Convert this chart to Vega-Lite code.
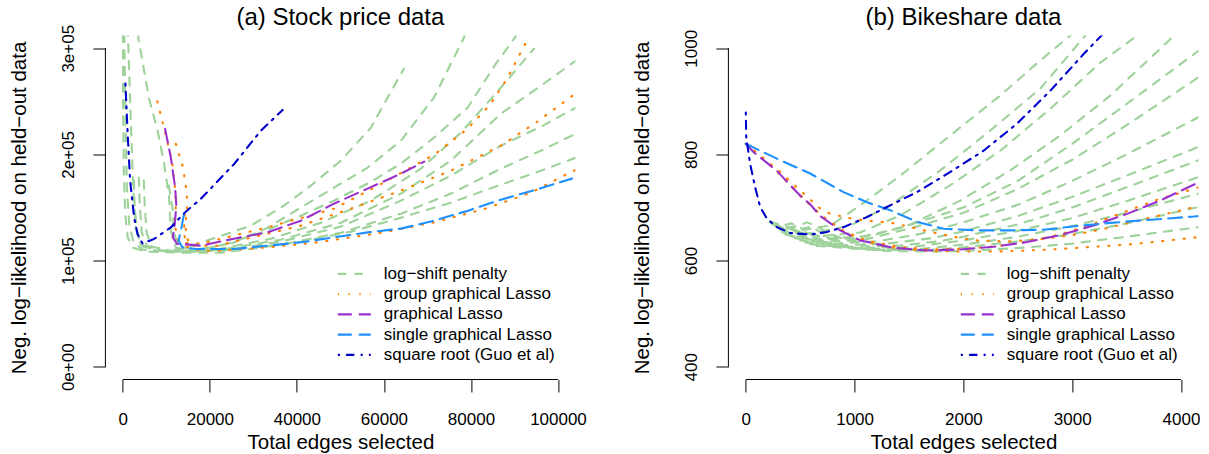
{
  "$schema": "https://vega.github.io/schema/vega-lite/v6.json",
  "padding": {"left": 8.4, "top": 5.5, "right": 0, "bottom": 0},
  "background": "white",
  "spacing": 45,
  "config": {
    "font": "Liberation Sans",
    "view": {"stroke": null},
    "axis": {"grid": false, "domain": false, "tickColor": "black", "tickSize": 12.5, "tickWidth": 1, "labelFont": "Liberation Sans", "labelFontSize": 17, "labelColor": "black", "titleFont": "Liberation Sans", "titleFontSize": 20.5, "titleFontWeight": "normal", "titleColor": "black"},
    "legend": {"orient": "none", "legendX": 239.4, "legendY": 228.9, "title": null, "symbolType": "M-2,0H2", "symbolSize": 272.25, "symbolStrokeWidth": 2.1, "labelFont": "Liberation Sans", "labelFontSize": 17, "labelColor": "black", "labelOffset": 20, "rowPadding": 2.25, "padding": 0, "labelLimit": 500},
    "title": {"font": "Liberation Sans", "fontSize": 24, "fontWeight": "normal", "color": "black", "frame": "group", "anchor": "middle", "baseline": "alphabetic"}
  },
  "resolve": {"scale": {"color": "independent", "strokeDash": "independent"}},
  "datasets": {
    "a": [
      {"s":"g1","m":"g","x":0,"y":345000},{"s":"g1","m":"g","x":70,"y":250700},{"s":"g1","m":"g","x":230,"y":184700},{"s":"g1","m":"g","x":575,"y":142300},{"s":"g1","m":"g","x":1150,"y":121600},{"s":"g1","m":"g","x":2300,"y":112200},{"s":"g1","m":"g","x":5290,"y":108400},{"s":"g1","m":"g","x":13330,"y":107400},{"s":"g1","m":"g","x":22530,"y":107400},{"s":"g1","m":"g","x":31730,"y":112200},{"s":"g1","m":"g","x":40920,"y":117800},{"s":"g1","m":"g","x":52420,"y":127200},{"s":"g1","m":"g","x":63910,"y":140400},{"s":"g1","m":"g","x":75410,"y":154600},{"s":"g1","m":"g","x":86900,"y":171500},{"s":"g1","m":"g","x":96100,"y":184700},{"s":"g1","m":"g","x":104150,"y":197000},{"s":"g1","m":"g","x":106000,"y":200000},
      {"s":"g2","m":"g","x":230,"y":345000},{"s":"g2","m":"g","x":575,"y":241300},{"s":"g2","m":"g","x":920,"y":170600},{"s":"g2","m":"g","x":1490,"y":132900},{"s":"g2","m":"g","x":2530,"y":116900},{"s":"g2","m":"g","x":4600,"y":110300},{"s":"g2","m":"g","x":11030,"y":108400},{"s":"g2","m":"g","x":22530,"y":109300},{"s":"g2","m":"g","x":36320,"y":115000},{"s":"g2","m":"g","x":50120,"y":126300},{"s":"g2","m":"g","x":63910,"y":144200},{"s":"g2","m":"g","x":75410,"y":163100},{"s":"g2","m":"g","x":86900,"y":186600},{"s":"g2","m":"g","x":96100,"y":203600},{"s":"g2","m":"g","x":104150,"y":219600},{"s":"g2","m":"g","x":106000,"y":223000},
      {"s":"g3","m":"g","x":1000,"y":335000},{"s":"g3","m":"g","x":1840,"y":231900},{"s":"g3","m":"g","x":2410,"y":165900},{"s":"g3","m":"g","x":2990,"y":130100},{"s":"g3","m":"g","x":4140,"y":115000},{"s":"g3","m":"g","x":7590,"y":109300},{"s":"g3","m":"g","x":15630,"y":108400},{"s":"g3","m":"g","x":22530,"y":109300},{"s":"g3","m":"g","x":36320,"y":117800},{"s":"g3","m":"g","x":50120,"y":132000},{"s":"g3","m":"g","x":63910,"y":156500},{"s":"g3","m":"g","x":75410,"y":180000},{"s":"g3","m":"g","x":86900,"y":208300},{"s":"g3","m":"g","x":96100,"y":226200},{"s":"g3","m":"g","x":104150,"y":244100},{"s":"g3","m":"g","x":106000,"y":248000},
      {"s":"g4","m":"g","x":3680,"y":178100},{"s":"g4","m":"g","x":3910,"y":151700},{"s":"g4","m":"g","x":4370,"y":126300},{"s":"g4","m":"g","x":5520,"y":114000},{"s":"g4","m":"g","x":8740,"y":109300},{"s":"g4","m":"g","x":15630,"y":108400},{"s":"g4","m":"g","x":22530,"y":110300},{"s":"g4","m":"g","x":36320,"y":119700},{"s":"g4","m":"g","x":50120,"y":135700},{"s":"g4","m":"g","x":63910,"y":163100},{"s":"g4","m":"g","x":75410,"y":194200},{"s":"g4","m":"g","x":86900,"y":238500},{"s":"g4","m":"g","x":96100,"y":264800},{"s":"g4","m":"g","x":104150,"y":288400},{"s":"g4","m":"g","x":106000,"y":294000},
      {"s":"g5","m":"g","x":4830,"y":175300},{"s":"g5","m":"g","x":5060,"y":148900},{"s":"g5","m":"g","x":5520,"y":125400},{"s":"g5","m":"g","x":6670,"y":113100},{"s":"g5","m":"g","x":11030,"y":109300},{"s":"g5","m":"g","x":17930,"y":109300},{"s":"g5","m":"g","x":22530,"y":111200},{"s":"g5","m":"g","x":34030,"y":120600},{"s":"g5","m":"g","x":45520,"y":135700},{"s":"g5","m":"g","x":57020,"y":156500},{"s":"g5","m":"g","x":68510,"y":186600},{"s":"g5","m":"g","x":77710,"y":220500},{"s":"g5","m":"g","x":86900,"y":263000},{"s":"g5","m":"g","x":94490,"y":299700},
      {"s":"g6","m":"g","x":3400,"y":330000},{"s":"g6","m":"g","x":3610,"y":309100},{"s":"g6","m":"g","x":5980,"y":253500},{"s":"g6","m":"g","x":7980,"y":222400},{"s":"g6","m":"g","x":9500,"y":191300},{"s":"g6","m":"g","x":10640,"y":159300},{"s":"g6","m":"g","x":11030,"y":128200},{"s":"g6","m":"g","x":12180,"y":112400},{"s":"g6","m":"g","x":15630,"y":109300},{"s":"g6","m":"g","x":22530,"y":114000},{"s":"g6","m":"g","x":31730,"y":126300},{"s":"g6","m":"g","x":40920,"y":142300},{"s":"g6","m":"g","x":48520,"y":156500},{"s":"g6","m":"g","x":56260,"y":172500},{"s":"g6","m":"g","x":63910,"y":191300},{"s":"g6","m":"g","x":71500,"y":215800},{"s":"g6","m":"g","x":79250,"y":244100},{"s":"g6","m":"g","x":85750,"y":285600},{"s":"g6","m":"g","x":90120,"y":310100},{"s":"g6","m":"g","x":91500,"y":325000},
      {"s":"g7","m":"g","x":10580,"y":170600},{"s":"g7","m":"g","x":11500,"y":147000},{"s":"g7","m":"g","x":11720,"y":126300},{"s":"g7","m":"g","x":12870,"y":113100},{"s":"g7","m":"g","x":16780,"y":110300},{"s":"g7","m":"g","x":24830,"y":115900},{"s":"g7","m":"g","x":32880,"y":130100},{"s":"g7","m":"g","x":40920,"y":149900},{"s":"g7","m":"g","x":48520,"y":168700},{"s":"g7","m":"g","x":56260,"y":187600},{"s":"g7","m":"g","x":63910,"y":213000},{"s":"g7","m":"g","x":71500,"y":253500},{"s":"g7","m":"g","x":78400,"y":310100},{"s":"g7","m":"g","x":79300,"y":322000},
      {"s":"g8","m":"g","x":2530,"y":175300},{"s":"g8","m":"g","x":2760,"y":147000},{"s":"g8","m":"g","x":3450,"y":123500},{"s":"g8","m":"g","x":4600,"y":113100},{"s":"g8","m":"g","x":8740,"y":109300},{"s":"g8","m":"g","x":14000,"y":111000},{"s":"g8","m":"g","x":17930,"y":116900},{"s":"g8","m":"g","x":29430,"y":132900},{"s":"g8","m":"g","x":37010,"y":151700},{"s":"g8","m":"g","x":43220,"y":170600},{"s":"g8","m":"g","x":50120,"y":194200},{"s":"g8","m":"g","x":57020,"y":225300},{"s":"g8","m":"g","x":64600,"y":280900},
      {"s":"o1","m":"o","x":14250,"y":143300},{"s":"o1","m":"o","x":14020,"y":126300},{"s":"o1","m":"o","x":14710,"y":113100},{"s":"o1","m":"o","x":17930,"y":109300},{"s":"o1","m":"o","x":21770,"y":109300},{"s":"o1","m":"o","x":33270,"y":112400},{"s":"o1","m":"o","x":44760,"y":117200},{"s":"o1","m":"o","x":60000,"y":126600},{"s":"o1","m":"o","x":71570,"y":136000},{"s":"o1","m":"o","x":83070,"y":148600},{"s":"o1","m":"o","x":93800,"y":164000},{"s":"o1","m":"o","x":102760,"y":183000},{"s":"o1","m":"o","x":105000,"y":187000},
      {"s":"o2","m":"o","x":12180,"y":209900},{"s":"o2","m":"o","x":13720,"y":189400},{"s":"o2","m":"o","x":14480,"y":170600},{"s":"o2","m":"o","x":14870,"y":153300},{"s":"o2","m":"o","x":14480,"y":137600},{"s":"o2","m":"o","x":14480,"y":123500},{"s":"o2","m":"o","x":15630,"y":114000},{"s":"o2","m":"o","x":21770,"y":114000},{"s":"o2","m":"o","x":40920,"y":132900},{"s":"o2","m":"o","x":52420,"y":148900},{"s":"o2","m":"o","x":63910,"y":165900},{"s":"o2","m":"o","x":75410,"y":184700},{"s":"o2","m":"o","x":86900,"y":208300},{"s":"o2","m":"o","x":94950,"y":230000},{"s":"o2","m":"o","x":102760,"y":253500},{"s":"o2","m":"o","x":105000,"y":261000},
      {"s":"o3","m":"o","x":7930,"y":250000},{"s":"o3","m":"o","x":9130,"y":230300},{"s":"o3","m":"o","x":10280,"y":211100},{"s":"o3","m":"o","x":11380,"y":191300},{"s":"o3","m":"o","x":11950,"y":170600},{"s":"o3","m":"o","x":12180,"y":151700},{"s":"o3","m":"o","x":11950,"y":132900},{"s":"o3","m":"o","x":12870,"y":116900},{"s":"o3","m":"o","x":17930,"y":115900},{"s":"o3","m":"o","x":33270,"y":131300},{"s":"o3","m":"o","x":48580,"y":148900},{"s":"o3","m":"o","x":60070,"y":173700},{"s":"o3","m":"o","x":71570,"y":199800},{"s":"o3","m":"o","x":79250,"y":224300},{"s":"o3","m":"o","x":84210,"y":246000},{"s":"o3","m":"o","x":88280,"y":271200},{"s":"o3","m":"o","x":92880,"y":307300},
      {"s":"p1","m":"p","x":9720,"y":224000},{"s":"p1","m":"p","x":11030,"y":197300},{"s":"p1","m":"p","x":12020,"y":169000},{"s":"p1","m":"p","x":12300,"y":151700},{"s":"p1","m":"p","x":11950,"y":134800},{"s":"p1","m":"p","x":11500,"y":121900},{"s":"p1","m":"p","x":12420,"y":115900},{"s":"p1","m":"p","x":15170,"y":115000},{"s":"p1","m":"p","x":17930,"y":114000},{"s":"p1","m":"p","x":25520,"y":120600},{"s":"p1","m":"p","x":33270,"y":126600},{"s":"p1","m":"p","x":40920,"y":137600},{"s":"p1","m":"p","x":48510,"y":153600},{"s":"p1","m":"p","x":56260,"y":167800},{"s":"p1","m":"p","x":63910,"y":181900},{"s":"p1","m":"p","x":69270,"y":193200},
      {"s":"b1","m":"b","x":14020,"y":143300},{"s":"b1","m":"b","x":13450,"y":130100},{"s":"b1","m":"b","x":12810,"y":118800},{"s":"b1","m":"b","x":13720,"y":112400},{"s":"b1","m":"b","x":16780,"y":110900},{"s":"b1","m":"b","x":25590,"y":110900},{"s":"b1","m":"b","x":33270,"y":114000},{"s":"b1","m":"b","x":40920,"y":117200},{"s":"b1","m":"b","x":48580,"y":121900},{"s":"b1","m":"b","x":56260,"y":126600},{"s":"b1","m":"b","x":63910,"y":130100},{"s":"b1","m":"b","x":71500,"y":137600},{"s":"b1","m":"b","x":79320,"y":147000},{"s":"b1","m":"b","x":86900,"y":157400},{"s":"b1","m":"b","x":94950,"y":166800},{"s":"b1","m":"b","x":103220,"y":177200},
      {"s":"r1","m":"r","x":600,"y":266700},{"s":"r1","m":"r","x":1080,"y":222400},{"s":"r1","m":"r","x":1680,"y":175300},{"s":"r1","m":"r","x":2600,"y":140700},{"s":"r1","m":"r","x":3380,"y":125100},{"s":"r1","m":"r","x":4530,"y":116200},{"s":"r1","m":"r","x":7200,"y":120400},{"s":"r1","m":"r","x":11030,"y":131300},{"s":"r1","m":"r","x":14480,"y":146100},{"s":"r1","m":"r","x":17930,"y":158100},{"s":"r1","m":"r","x":25590,"y":191000},{"s":"r1","m":"r","x":31730,"y":222400},{"s":"r1","m":"r","x":36720,"y":241900}
    ],
    "b": [
      {"s":"B1","m":"g","x":224,"y":672},{"s":"B1","m":"g","x":500,"y":657},{"s":"B1","m":"g","x":776,"y":666},{"s":"B1","m":"g","x":1052,"y":704},{"s":"B1","m":"g","x":1420,"y":760},{"s":"B1","m":"g","x":1880,"y":836},{"s":"B1","m":"g","x":2339,"y":911},{"s":"B1","m":"g","x":2707,"y":977},{"s":"B1","m":"g","x":2983,"y":1024},{"s":"B1","m":"g","x":3050,"y":1036},
      {"s":"B2","m":"g","x":243,"y":668},{"s":"B2","m":"g","x":592,"y":651},{"s":"B2","m":"g","x":960,"y":666},{"s":"B2","m":"g","x":1328,"y":704},{"s":"B2","m":"g","x":1788,"y":770},{"s":"B2","m":"g","x":2247,"y":845},{"s":"B2","m":"g","x":2707,"y":924},{"s":"B2","m":"g","x":3121,"y":1024},{"s":"B2","m":"g","x":3180,"y":1035},
      {"s":"B3","m":"g","x":270,"y":665},{"s":"B3","m":"g","x":684,"y":646},{"s":"B3","m":"g","x":1052,"y":653},{"s":"B3","m":"g","x":1420,"y":685},{"s":"B3","m":"g","x":1880,"y":742},{"s":"B3","m":"g","x":2339,"y":807},{"s":"B3","m":"g","x":2799,"y":886},{"s":"B3","m":"g","x":3259,"y":973},{"s":"B3","m":"g","x":3599,"y":1024},{"s":"B3","m":"g","x":3650,"y":1032},
      {"s":"B4","m":"g","x":298,"y":661},{"s":"B4","m":"g","x":776,"y":642},{"s":"B4","m":"g","x":1144,"y":646},{"s":"B4","m":"g","x":1512,"y":668},{"s":"B4","m":"g","x":1972,"y":713},{"s":"B4","m":"g","x":2431,"y":770},{"s":"B4","m":"g","x":2891,"y":836},{"s":"B4","m":"g","x":3351,"y":911},{"s":"B4","m":"g","x":3939,"y":1024},{"s":"B4","m":"g","x":4000,"y":1035},
      {"s":"B5","m":"g","x":316,"y":657},{"s":"B5","m":"g","x":700,"y":640},{"s":"B5","m":"g","x":1000,"y":642},{"s":"B5","m":"g","x":1400,"y":660},{"s":"B5","m":"g","x":2000,"y":700},{"s":"B5","m":"g","x":2500,"y":750},{"s":"B5","m":"g","x":3000,"y":820},{"s":"B5","m":"g","x":3500,"y":895},{"s":"B5","m":"g","x":4160,"y":995},{"s":"B5","m":"g","x":4250,"y":1010},
      {"s":"B6","m":"g","x":335,"y":653},{"s":"B6","m":"g","x":750,"y":636},{"s":"B6","m":"g","x":1100,"y":640},{"s":"B6","m":"g","x":1500,"y":660},{"s":"B6","m":"g","x":2000,"y":690},{"s":"B6","m":"g","x":2500,"y":735},{"s":"B6","m":"g","x":3000,"y":790},{"s":"B6","m":"g","x":3500,"y":855},{"s":"B6","m":"g","x":4160,"y":945},{"s":"B6","m":"g","x":4250,"y":958},
      {"s":"B7","m":"g","x":362,"y":649},{"s":"B7","m":"g","x":800,"y":632},{"s":"B7","m":"g","x":1200,"y":636},{"s":"B7","m":"g","x":1600,"y":650},{"s":"B7","m":"g","x":2000,"y":672},{"s":"B7","m":"g","x":2500,"y":705},{"s":"B7","m":"g","x":3000,"y":750},{"s":"B7","m":"g","x":3500,"y":800},{"s":"B7","m":"g","x":4160,"y":870},{"s":"B7","m":"g","x":4250,"y":880},
      {"s":"B8","m":"g","x":408,"y":646},{"s":"B8","m":"g","x":900,"y":629},{"s":"B8","m":"g","x":1300,"y":632},{"s":"B8","m":"g","x":1700,"y":642},{"s":"B8","m":"g","x":2000,"y":655},{"s":"B8","m":"g","x":2500,"y":684},{"s":"B8","m":"g","x":3000,"y":720},{"s":"B8","m":"g","x":3500,"y":760},{"s":"B8","m":"g","x":4160,"y":814},{"s":"B8","m":"g","x":4250,"y":822},
      {"s":"B9","m":"g","x":454,"y":642},{"s":"B9","m":"g","x":950,"y":626},{"s":"B9","m":"g","x":1400,"y":628},{"s":"B9","m":"g","x":1800,"y":637},{"s":"B9","m":"g","x":2000,"y":645},{"s":"B9","m":"g","x":2500,"y":668},{"s":"B9","m":"g","x":3000,"y":700},{"s":"B9","m":"g","x":3500,"y":738},{"s":"B9","m":"g","x":4160,"y":789},{"s":"B9","m":"g","x":4250,"y":796},
      {"s":"B10","m":"g","x":500,"y":638},{"s":"B10","m":"g","x":1000,"y":624},{"s":"B10","m":"g","x":1500,"y":625},{"s":"B10","m":"g","x":2000,"y":638},{"s":"B10","m":"g","x":2500,"y":656},{"s":"B10","m":"g","x":3000,"y":680},{"s":"B10","m":"g","x":3500,"y":712},{"s":"B10","m":"g","x":4160,"y":757},{"s":"B10","m":"g","x":4250,"y":763},
      {"s":"B11","m":"g","x":546,"y":634},{"s":"B11","m":"g","x":1100,"y":622},{"s":"B11","m":"g","x":1600,"y":622},{"s":"B11","m":"g","x":2000,"y":630},{"s":"B11","m":"g","x":2500,"y":645},{"s":"B11","m":"g","x":3000,"y":665},{"s":"B11","m":"g","x":3500,"y":690},{"s":"B11","m":"g","x":4160,"y":726},{"s":"B11","m":"g","x":4250,"y":731},
      {"s":"B12","m":"g","x":592,"y":631},{"s":"B12","m":"g","x":1200,"y":620},{"s":"B12","m":"g","x":1700,"y":620},{"s":"B12","m":"g","x":2000,"y":625},{"s":"B12","m":"g","x":2500,"y":636},{"s":"B12","m":"g","x":3000,"y":650},{"s":"B12","m":"g","x":3500,"y":670},{"s":"B12","m":"g","x":4160,"y":701},{"s":"B12","m":"g","x":4250,"y":705},
      {"s":"B13","m":"g","x":650,"y":628},{"s":"B13","m":"g","x":1300,"y":618},{"s":"B13","m":"g","x":1800,"y":617},{"s":"B13","m":"g","x":2200,"y":620},{"s":"B13","m":"g","x":2600,"y":625},{"s":"B13","m":"g","x":3000,"y":632},{"s":"B13","m":"g","x":3500,"y":645},{"s":"B13","m":"g","x":4160,"y":663},{"s":"B13","m":"g","x":4250,"y":665},
      {"s":"C1","m":"g","x":220,"y":674},{"s":"C1","m":"g","x":330,"y":666},{"s":"C1","m":"g","x":420,"y":670},{"s":"C1","m":"g","x":520,"y":660},{"s":"C1","m":"g","x":600,"y":664},{"s":"C1","m":"g","x":700,"y":652},{"s":"C1","m":"g","x":800,"y":648},{"s":"C1","m":"g","x":900,"y":640},{"s":"C1","m":"g","x":1000,"y":636},{"s":"C1","m":"g","x":1100,"y":630},
      {"s":"C2","m":"g","x":240,"y":670},{"s":"C2","m":"g","x":360,"y":660},{"s":"C2","m":"g","x":470,"y":665},{"s":"C2","m":"g","x":560,"y":672},{"s":"C2","m":"g","x":640,"y":666},{"s":"C2","m":"g","x":740,"y":654},{"s":"C2","m":"g","x":840,"y":645},{"s":"C2","m":"g","x":950,"y":638},{"s":"C2","m":"g","x":1050,"y":633},
      {"s":"o1","m":"o","x":0,"y":820},{"s":"o1","m":"o","x":68,"y":806},{"s":"o1","m":"o","x":286,"y":770},{"s":"o1","m":"o","x":500,"y":724},{"s":"o1","m":"o","x":700,"y":684},{"s":"o1","m":"o","x":900,"y":655},{"s":"o1","m":"o","x":1100,"y":636},{"s":"o1","m":"o","x":1300,"y":626},{"s":"o1","m":"o","x":1500,"y":621},{"s":"o1","m":"o","x":1700,"y":618},{"s":"o1","m":"o","x":2000,"y":617},{"s":"o1","m":"o","x":2300,"y":617},{"s":"o1","m":"o","x":2600,"y":619},{"s":"o1","m":"o","x":2900,"y":622},{"s":"o1","m":"o","x":3200,"y":626},{"s":"o1","m":"o","x":3500,"y":630},{"s":"o1","m":"o","x":3800,"y":636},{"s":"o1","m":"o","x":4148,"y":644},{"s":"o1","m":"o","x":4250,"y":646},
      {"s":"o2","m":"o","x":0,"y":820},{"s":"o2","m":"o","x":300,"y":770},{"s":"o2","m":"o","x":608,"y":712},{"s":"o2","m":"o","x":684,"y":698},{"s":"o2","m":"o","x":776,"y":688},{"s":"o2","m":"o","x":1000,"y":678},{"s":"o2","m":"o","x":1374,"y":670},{"s":"o2","m":"o","x":1634,"y":657},{"s":"o2","m":"o","x":1900,"y":645},{"s":"o2","m":"o","x":2125,"y":638},{"s":"o2","m":"o","x":2400,"y":636},{"s":"o2","m":"o","x":2700,"y":640},{"s":"o2","m":"o","x":3000,"y":648},{"s":"o2","m":"o","x":3300,"y":660},{"s":"o2","m":"o","x":3600,"y":675},{"s":"o2","m":"o","x":3900,"y":690},{"s":"o2","m":"o","x":4250,"y":707},
      {"s":"o3","m":"o","x":0,"y":820},{"s":"o3","m":"o","x":286,"y":768},{"s":"o3","m":"o","x":500,"y":722},{"s":"o3","m":"o","x":700,"y":684},{"s":"o3","m":"o","x":900,"y":656},{"s":"o3","m":"o","x":1100,"y":638},{"s":"o3","m":"o","x":1400,"y":626},{"s":"o3","m":"o","x":1700,"y":621},{"s":"o3","m":"o","x":2000,"y":622},{"s":"o3","m":"o","x":2300,"y":627},{"s":"o3","m":"o","x":2600,"y":636},{"s":"o3","m":"o","x":2900,"y":650},{"s":"o3","m":"o","x":3200,"y":670},{"s":"o3","m":"o","x":3500,"y":693},{"s":"o3","m":"o","x":3800,"y":716},{"s":"o3","m":"o","x":4150,"y":737},{"s":"o3","m":"o","x":4250,"y":743},
      {"s":"p1","m":"p","x":0,"y":820},{"s":"p1","m":"p","x":68,"y":805},{"s":"p1","m":"p","x":286,"y":769},{"s":"p1","m":"p","x":500,"y":722},{"s":"p1","m":"p","x":592,"y":706},{"s":"p1","m":"p","x":684,"y":684},{"s":"p1","m":"p","x":868,"y":657},{"s":"p1","m":"p","x":1052,"y":638},{"s":"p1","m":"p","x":1358,"y":624},{"s":"p1","m":"p","x":1665,"y":619},{"s":"p1","m":"p","x":1972,"y":621},{"s":"p1","m":"p","x":2278,"y":626},{"s":"p1","m":"p","x":2585,"y":635},{"s":"p1","m":"p","x":2891,"y":648},{"s":"p1","m":"p","x":3197,"y":666},{"s":"p1","m":"p","x":3504,"y":688},{"s":"p1","m":"p","x":3810,"y":713},{"s":"p1","m":"p","x":4148,"y":746},{"s":"p1","m":"p","x":4250,"y":756},
      {"s":"b1","m":"b","x":0,"y":820},{"s":"b1","m":"b","x":286,"y":792},{"s":"b1","m":"b","x":592,"y":764},{"s":"b1","m":"b","x":898,"y":729},{"s":"b1","m":"b","x":1114,"y":710},{"s":"b1","m":"b","x":1328,"y":695},{"s":"b1","m":"b","x":1573,"y":673},{"s":"b1","m":"b","x":1818,"y":660},{"s":"b1","m":"b","x":2125,"y":657},{"s":"b1","m":"b","x":2431,"y":657},{"s":"b1","m":"b","x":2737,"y":658},{"s":"b1","m":"b","x":3044,"y":665},{"s":"b1","m":"b","x":3351,"y":671},{"s":"b1","m":"b","x":3657,"y":676},{"s":"b1","m":"b","x":4117,"y":683},{"s":"b1","m":"b","x":4250,"y":686},
      {"s":"r1","m":"r","x":0,"y":879},{"s":"r1","m":"r","x":4,"y":832},{"s":"r1","m":"r","x":40,"y":782},{"s":"r1","m":"r","x":86,"y":738},{"s":"r1","m":"r","x":132,"y":701},{"s":"r1","m":"r","x":194,"y":679},{"s":"r1","m":"r","x":286,"y":663},{"s":"r1","m":"r","x":408,"y":652},{"s":"r1","m":"r","x":592,"y":649},{"s":"r1","m":"r","x":746,"y":654},{"s":"r1","m":"r","x":898,"y":663},{"s":"r1","m":"r","x":1114,"y":682},{"s":"r1","m":"r","x":1297,"y":701},{"s":"r1","m":"r","x":1573,"y":729},{"s":"r1","m":"r","x":1880,"y":767},{"s":"r1","m":"r","x":2186,"y":807},{"s":"r1","m":"r","x":2493,"y":858},{"s":"r1","m":"r","x":2799,"y":920},{"s":"r1","m":"r","x":3105,"y":989},{"s":"r1","m":"r","x":3274,"y":1025},{"s":"r1","m":"r","x":3330,"y":1036}
    ]
  },
  "hconcat": [
    {
      "width": 470, "height": 344,
      "title": {"text": "(a) Stock price data", "offset": -5.8},
      "layer": [
        {
          "data": {"name": "a"},
          "mark": {"type": "line", "clip": true, "strokeWidth": 2.1, "strokeCap": "round"},
          "encoding": {
            "x": {"field": "x", "type": "quantitative", "scale": {"domain": [-4000, 104000], "nice": false, "zero": false},
                  "axis": {"values": [0, 20000, 40000, 60000, 80000, 100000], "format": "d", "labelPadding": 20, "title": "Total edges selected", "titleX": 235, "titleY": 69.3, "titleBaseline": "alphabetic", "titleAlign": "center"}},
            "y": {"field": "y", "type": "quantitative", "scale": {"domain": [-12000, 312000], "nice": false, "zero": false},
                  "axis": {"values": [0, 100000, 200000, 300000], "labelExpr": "datum.value == 0 ? '0e+00' : format(datum.value / 100000, 'd') + 'e+05'", "labelAngle": 270, "labelAlign": "center", "labelBaseline": "alphabetic", "labelPadding": 19.5, "title": "Neg. log−likelihood on held−out data", "titleX": -80, "titleY": 172, "titleAngle": 270, "titleBaseline": "alphabetic", "titleAlign": "center"}},
            "color": {"field": "m", "type": "nominal", "scale": {"domain": ["g", "o", "p", "b", "r"], "range": ["#9ED29A", "#FF7F00", "#9932CC", "#1E90FF", "#0000CD"]},
                      "legend": {"labelExpr": "{'g':'log−shift penalty','o':'group graphical Lasso','p':'graphical Lasso','b':'single graphical Lasso','r':'square root (Guo et al)'}[datum.label]"}},
            "strokeDash": {"field": "m", "type": "nominal", "scale": {"domain": ["g", "o", "p", "b", "r"], "range": [[8.3, 8.3], [1.2, 9.6], [14, 7], [14, 7], [2.1, 6.2, 8.3, 6.2]]},
                      "legend": {"labelExpr": "{'g':'log−shift penalty','o':'group graphical Lasso','p':'graphical Lasso','b':'single graphical Lasso','r':'square root (Guo et al)'}[datum.label]"}},
            "detail": {"field": "s", "type": "nominal"},
            "order": {"value": null}
          }
        },
        {"data": {"values": [{}]}, "mark": {"type": "rule", "color": "black", "strokeWidth": 1}, "encoding": {"x": {"datum": 0}, "x2": {"datum": 100000}, "y": {"datum": -12000}}},
        {"data": {"values": [{}]}, "mark": {"type": "rule", "color": "black", "strokeWidth": 1}, "encoding": {"x": {"datum": -4000}, "y": {"datum": 0}, "y2": {"datum": 300000}}}
      ]
    },
    {
      "width": 470, "height": 344,
      "title": {"text": "(b) Bikeshare data", "offset": -0.8},
      "layer": [
        {
          "data": {"name": "b"},
          "mark": {"type": "line", "clip": true, "strokeWidth": 2.1, "strokeCap": "round"},
          "encoding": {
            "x": {"field": "x", "type": "quantitative", "scale": {"domain": [-160, 4160], "nice": false, "zero": false},
                  "axis": {"values": [0, 1000, 2000, 3000, 4000], "format": "d", "labelPadding": 20, "title": "Total edges selected", "titleX": 235, "titleY": 69.3, "titleBaseline": "alphabetic", "titleAlign": "center"}},
            "y": {"field": "y", "type": "quantitative", "scale": {"domain": [376, 1024], "nice": false, "zero": false},
                  "axis": {"values": [400, 600, 800, 1000], "format": "d", "labelAngle": 270, "labelAlign": "center", "labelBaseline": "alphabetic", "labelPadding": 19.5, "title": "Neg. log−likelihood on held−out data", "titleX": -80, "titleY": 172, "titleAngle": 270, "titleBaseline": "alphabetic", "titleAlign": "center"}},
            "color": {"field": "m", "type": "nominal", "scale": {"domain": ["g", "o", "p", "b", "r"], "range": ["#9ED29A", "#FF7F00", "#9932CC", "#1E90FF", "#0000CD"]},
                      "legend": {"labelExpr": "{'g':'log−shift penalty','o':'group graphical Lasso','p':'graphical Lasso','b':'single graphical Lasso','r':'square root (Guo et al)'}[datum.label]"}},
            "strokeDash": {"field": "m", "type": "nominal", "scale": {"domain": ["g", "o", "p", "b", "r"], "range": [[8.3, 8.3], [1.2, 9.6], [14, 7], [14, 7], [2.1, 6.2, 8.3, 6.2]]},
                      "legend": {"labelExpr": "{'g':'log−shift penalty','o':'group graphical Lasso','p':'graphical Lasso','b':'single graphical Lasso','r':'square root (Guo et al)'}[datum.label]"}},
            "detail": {"field": "s", "type": "nominal"},
            "order": {"value": null}
          }
        },
        {"data": {"values": [{}]}, "mark": {"type": "rule", "color": "black", "strokeWidth": 1}, "encoding": {"x": {"datum": 0}, "x2": {"datum": 4000}, "y": {"datum": 376}}},
        {"data": {"values": [{}]}, "mark": {"type": "rule", "color": "black", "strokeWidth": 1}, "encoding": {"x": {"datum": -160}, "y": {"datum": 400}, "y2": {"datum": 1000}}}
      ]
    }
  ]
}
